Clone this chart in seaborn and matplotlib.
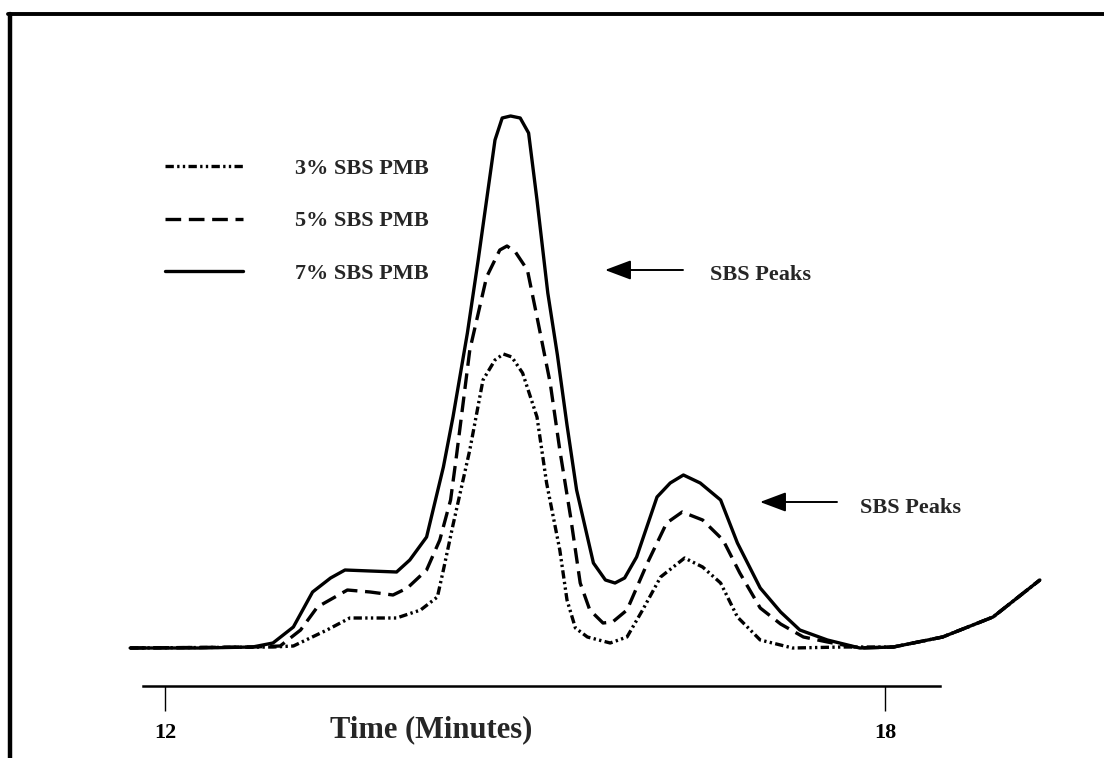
import numpy as np
import pandas as pd
import seaborn as sns
import matplotlib
matplotlib.use("Agg")
import matplotlib.pyplot as plt
from matplotlib.lines import Line2D
from matplotlib.transforms import IdentityTransform

# ---- data (time in minutes, detector signal in arbitrary units) ----
series_names = ["3% SBS PMB", "5% SBS PMB", "7% SBS PMB"]

t_3 = [11.71, 12.90, 13.07, 13.35, 13.54, 13.93, 14.13, 14.27, 14.32, 14.40,
       14.54, 14.65, 14.75, 14.82, 14.89, 14.98, 15.10, 15.18, 15.29, 15.35,
       15.42, 15.52, 15.71, 15.85, 15.98, 16.13, 16.33, 16.48, 16.63, 16.77,
       16.96, 17.23, 17.65, 18.07, 18.48, 18.90, 19.29]
s_3 = [0.2, 0.3, 0.4, 2.0, 3.2, 3.2, 4.0, 5.3, 8.0, 12.5,
       20.0, 27.0, 29.0, 29.6, 29.3, 27.7, 23.3, 16.7, 10.0, 5.0,
       2.2, 1.3, 0.7, 1.3, 4.0, 7.3, 9.2, 8.3, 6.7, 3.3,
       1.0, 0.2, 0.3, 0.3, 1.3, 3.3, 7.0]

t_5 = [11.71, 12.73, 12.96, 13.13, 13.27, 13.52, 13.71, 13.90, 14.02, 14.18,
       14.29, 14.38, 14.43, 14.54, 14.68, 14.79, 14.85, 14.92, 15.02, 15.10,
       15.21, 15.29, 15.38, 15.46, 15.54, 15.65, 15.73, 15.85, 16.02, 16.18,
       16.31, 16.48, 16.65, 16.79, 16.96, 17.13, 17.32, 17.52, 17.79, 18.07,
       18.48, 18.90, 19.29]
s_5 = [0.2, 0.3, 0.4, 2.0, 4.3, 6.0, 5.8, 5.5, 6.2, 8.0,
       11.0, 15.0, 19.5, 30.0, 37.3, 40.0, 40.4, 39.8, 38.0, 33.3,
       26.7, 20.0, 13.3, 6.7, 4.0, 2.7, 2.8, 4.0, 8.7, 12.7,
       13.8, 13.0, 11.0, 7.7, 4.2, 2.6, 1.3, 0.8, 0.2, 0.3,
       1.3, 3.3, 7.0]

t_7 = [11.71, 12.29, 12.73, 12.90, 13.07, 13.23, 13.38, 13.50, 13.71, 13.93,
       14.04, 14.18, 14.32, 14.40, 14.52, 14.61, 14.68, 14.75, 14.81, 14.88,
       14.96, 15.03, 15.10, 15.19, 15.27, 15.35, 15.43, 15.57, 15.67, 15.75,
       15.83, 15.93, 16.10, 16.21, 16.32, 16.46, 16.63, 16.77, 16.96, 17.13,
       17.29, 17.52, 17.79, 18.07, 18.48, 18.90, 19.29]
s_7 = [0.2, 0.2, 0.3, 0.7, 2.3, 5.8, 7.2, 8.0, 7.9, 7.8,
       9.0, 11.3, 18.3, 23.3, 31.7, 39.0, 45.0, 51.0, 53.2, 53.4,
       53.2, 51.7, 45.0, 35.7, 29.5, 22.5, 16.0, 8.7, 7.0, 6.7,
       7.2, 9.3, 15.3, 16.7, 17.5, 16.7, 15.0, 10.7, 6.2, 3.8,
       2.0, 1.0, 0.2, 0.3, 1.3, 3.3, 7.0]

tick_values = [12, 18]
tick_labels = ["12", "18"]
x_label = "Time (Minutes)"
annot_text = "SBS Peaks"

df = pd.concat([
    pd.DataFrame({"time": t_3, "signal": s_3, "series": series_names[0]}),
    pd.DataFrame({"time": t_5, "signal": s_5, "series": series_names[1]}),
    pd.DataFrame({"time": t_7, "signal": s_7, "series": series_names[2]}),
], ignore_index=True)

# ---- style ----
sns.set_style("white")
plt.rcParams["font.family"] = ["Liberation Serif", "DejaVu Serif"]
plt.rcParams["font.weight"] = "bold"

W, H = 1104, 758
fig = plt.figure(figsize=(W / 100, H / 100), dpi=100)
ax = fig.add_axes([143 / W, (H - 686) / H, 797 / W, (686 - 100) / H])

dash_map = {
    series_names[0]: (2.5, 1.0, 0.7, 1.0, 0.7, 1.0),
    series_names[1]: (4.7, 2.3),
    series_names[2]: "",
}
LW = 2.4
sns.lineplot(data=df, x="time", y="signal", style="series", dashes=dash_map,
             color="black", estimator=None, sort=False, legend=False,
             linewidth=LW, ax=ax)
for ln in ax.lines:
    ln.set_clip_on(False)
    ln.set_solid_joinstyle("round")
    ln.set_dash_joinstyle("round")

ax.set_xlim(11.817, 18.458)
ax.set_ylim(-3.6, 55.0)

for side in ["top", "right", "left"]:
    ax.spines[side].set_visible(False)
ax.spines["bottom"].set_linewidth(1.8)
ax.spines["bottom"].set_color("black")
ax.set_yticks([])
ax.set_ylabel("")
ax.set_xticks(tick_values)
ax.set_xticklabels(tick_labels, fontsize=16, fontweight="bold")
ax.tick_params(axis="x", direction="out", length=18, width=1.0, pad=9,
               colors="black", bottom=True)
ax.set_xlabel(x_label, fontsize=22, fontweight="bold")
ax.xaxis.set_label_coords(0.361, -0.05)

# ---- legend ----
handles = [Line2D([], [], color="black", lw=LW,
                  dashes=dash_map[n] if dash_map[n] else (None, None))
           for n in series_names]
leg = ax.legend(handles, series_names, loc="center left",
                bbox_to_anchor=(165, H - 221), bbox_transform=IdentityTransform(),
                frameon=False, handlelength=3.5,
                handletextpad=2.35, labelspacing=1.43, borderpad=0,
                borderaxespad=0, prop={"weight": "bold", "size": 16})

# ---- annotations ----
arrow_style = "-|>,head_length=0.8,head_width=0.3"
ax.annotate("", xy=(605, H - 270), xytext=(683, H - 270),
            xycoords="figure pixels", textcoords="figure pixels",
            arrowprops=dict(arrowstyle=arrow_style, color="black", lw=1.4,
                            mutation_scale=20, shrinkA=0, shrinkB=0))
fig.text(710, H - 275, annot_text, transform=IdentityTransform(), fontsize=16,
         fontweight="bold", va="center", ha="left")
ax.annotate("", xy=(760, H - 502), xytext=(837, H - 502),
            xycoords="figure pixels", textcoords="figure pixels",
            arrowprops=dict(arrowstyle=arrow_style, color="black", lw=1.4,
                            mutation_scale=20, shrinkA=0, shrinkB=0))
fig.text(860, H - 508, annot_text, transform=IdentityTransform(), fontsize=16,
         fontweight="bold", va="center", ha="left")

# ---- outer frame (left and top edges visible) ----
fig.add_artist(Line2D([9.5 / W, 9.5 / W], [0, (H - 13.5) / H],
                      transform=fig.transFigure, color="black", lw=3.2))
fig.add_artist(Line2D([8 / W, 1.0], [(H - 13.5) / H, (H - 13.5) / H],
                      transform=fig.transFigure, color="black", lw=2.8))

fig.savefig("out.png", dpi=100)
